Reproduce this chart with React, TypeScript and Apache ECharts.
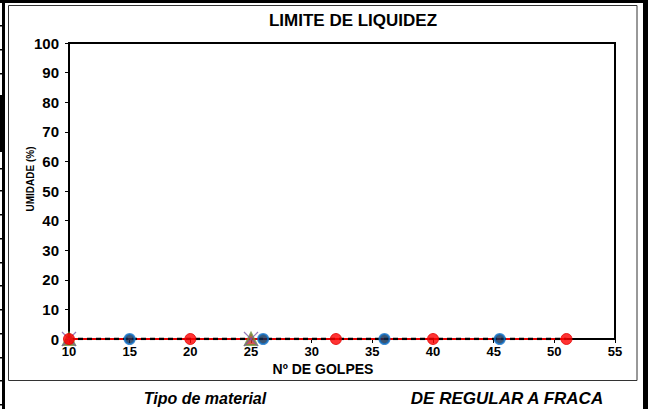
import React, { useEffect, useRef } from "react";
import * as echarts from "echarts";

const redX = [10, 20, 32, 40, 51];
const redY = [0, 0, 0, 0, 0];
const blueX = [15, 26, 36, 45.5];
const blueY = [0, 0, 0, 0];
const crossX = [10, 25];
const crossY = [0, 0];
const triX = [10, 25];
const triY = [0, 0];
const trendX = [10, 51];
const trendY = [0, 0];

const FONT = "Liberation Sans, Arial, sans-serif";

const leftTicks = [25, 49, 73, 168, 190, 214, 238, 262, 285, 309, 333, 357, 380, 404];

export default function App() {
  const ref = useRef<HTMLDivElement>(null);
  useEffect(() => {
    if (!ref.current) return;
    const chart = echarts.init(ref.current, undefined, { renderer: "svg" });
    const pairs = (xs: number[], ys: number[]) => xs.map((x, i) => [x, ys[i]]);
    const graphics: any[] = [
      { type: "rect", shape: { x: 0, y: 0, width: 648, height: 3 }, style: { fill: "#000" } },
      { type: "rect", shape: { x: 2, y: 0, width: 3, height: 409 }, style: { fill: "#000" } },
      { type: "rect", shape: { x: 643, y: 0, width: 5, height: 409 }, style: { fill: "#000" } },
      { type: "rect", shape: { x: 0, y: 95, width: 5, height: 57 }, style: { fill: "#000" } },
      { type: "rect", shape: { x: 8.5, y: 5.5, width: 628.5, height: 375 }, style: { fill: "none", stroke: "#333", lineWidth: 1 } },
      ...leftTicks.map((y) => ({ type: "rect", shape: { x: 0, y, width: 4, height: 1.5 }, style: { fill: "#000" } })),
      { type: "text", x: 353, y: 20, style: { text: "LIMITE DE LIQUIDEZ", font: `bold 17px ${FONT}`, fill: "#000", align: "center", verticalAlign: "middle" } },
      { type: "text", x: 323, y: 369, style: { text: "Nº DE GOLPES", font: `bold 14px ${FONT}`, fill: "#000", align: "center", verticalAlign: "middle" } },
      { type: "text", x: 30, y: 179, rotation: Math.PI / 2, style: { text: "UMIDADE (%)", font: `bold 10px ${FONT}`, fill: "#000", align: "center", verticalAlign: "middle" } },
      { type: "text", x: 205, y: 398, style: { text: "Tipo de material", font: `italic bold 16px ${FONT}`, fill: "#000", align: "center", verticalAlign: "middle" } },
      { type: "text", x: 507, y: 398, style: { text: "DE REGULAR A FRACA", font: `italic bold 17px ${FONT}`, fill: "#000", align: "center", verticalAlign: "middle" } },
    ];
    chart.setOption({
      animation: false,
      backgroundColor: "#fff",
      grid: { left: 69, right: 33, top: 43, bottom: 70, show: true, borderColor: "#000", borderWidth: 2, backgroundColor: "#fff" },
      xAxis: {
        type: "value",
        min: 10,
        max: 55,
        interval: 5,
        splitLine: { show: false },
        axisLine: { show: true, onZero: false, lineStyle: { color: "#000", width: 2 } },
        axisTick: { show: true, length: 4, lineStyle: { color: "#000" } },
        axisLabel: { color: "#000", fontFamily: FONT, fontWeight: "bold", fontSize: 13, margin: 6 },
      },
      yAxis: {
        type: "value",
        min: 0,
        max: 100,
        interval: 10,
        splitLine: { show: false },
        axisLine: { show: true, lineStyle: { color: "#000", width: 2 } },
        axisTick: { show: true, length: 4, lineStyle: { color: "#000" } },
        axisLabel: { color: "#000", fontFamily: FONT, fontWeight: "bold", fontSize: 15, margin: 10 },
      },
      graphic: graphics,
      series: [
        {
          type: "line",
          data: pairs(trendX, trendY),
          symbol: "none",
          lineStyle: { color: "#e00000", width: 2 },
          z: 2,
        },
        {
          type: "line",
          data: pairs(trendX, trendY),
          symbol: "none",
          lineStyle: { color: "#000", width: 2.5, type: [5, 4] },
          z: 3,
        },
        {
          type: "scatter",
          data: pairs(triX, triY),
          symbol: "triangle",
          symbolSize: 12,
          itemStyle: { color: "#d03020", borderColor: "#6f8f3a", borderWidth: 2 },
          z: 4,
        },
        {
          type: "scatter",
          data: pairs(crossX, crossY),
          symbol: "path://M0,0L10,10M10,0L0,10",
          symbolSize: 14,
          itemStyle: { color: "none", borderColor: "#7a5aa8", borderWidth: 1.2 },
          z: 5,
        },
        {
          type: "scatter",
          data: pairs(blueX, blueY),
          symbol: "circle",
          symbolSize: 10,
          itemStyle: { color: "#0a2a50", borderColor: "#1070c8", borderWidth: 2 },
          z: 6,
        },
        {
          type: "scatter",
          data: pairs(redX, redY),
          symbol: "circle",
          symbolSize: 11,
          itemStyle: { color: "#ff0000", borderColor: "#e00000", borderWidth: 1 },
          z: 7,
        },
      ],
    });
    return () => chart.dispose();
  }, []);
  return (
    <div style={{ position: "fixed", left: 0, top: 0, width: 648, height: 409, background: "#fff" }}>
      <div ref={ref} style={{ width: 648, height: 409 }} />
    </div>
  );
}
